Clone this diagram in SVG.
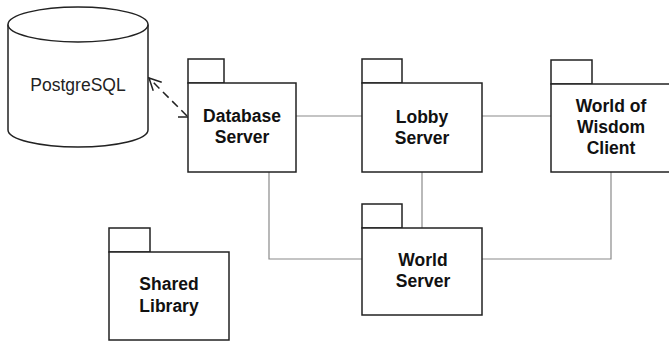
<svg xmlns="http://www.w3.org/2000/svg" width="669" height="342" viewBox="0 0 669 342">
<defs>
<style>
.box{fill:#fff;stroke:#222;stroke-width:1.5}
.conn{fill:none;stroke:#8a8a8a;stroke-width:1.2}
.dash{fill:none;stroke:#222;stroke-width:1.5;stroke-dasharray:8 5}
.lbl{font-family:"Liberation Sans",Arial,sans-serif;font-size:17.5px;font-weight:bold;fill:#111;text-anchor:middle}
.plain{font-family:"Liberation Sans",Arial,sans-serif;font-size:17.5px;fill:#222;text-anchor:middle}
</style>
<marker id="open" viewBox="0 0 14 14" refX="13" refY="7" markerWidth="14" markerHeight="14" markerUnits="userSpaceOnUse" orient="auto">
<path d="M1,1 L13,7 L1,13" fill="none" stroke="#222" stroke-width="1.5"/>
</marker>
</defs>
<rect width="669" height="342" fill="#fff"/>
<g id="connectors">
<path class="conn" d="M296,116 H362"/>
<path class="conn" d="M482,116 H551"/>
<path class="conn" d="M269,172 V259 H362"/>
<path class="conn" d="M422,172 V228"/>
<path class="conn" d="M611,172 V259 H482"/>
<path d="M178,117 H188" fill="none" stroke="#222" stroke-width="1.5"/>
<path class="dash" d="M187,116 L149,78" marker-end="url(#open)"/>
</g>
<g id="postgresql">
<path class="box" d="M8,24.5 V130 A70,17 0 0 0 148,130 V24.5"/>
<ellipse class="box" cx="78" cy="24.5" rx="70" ry="17.5"/>
<text class="plain" x="78" y="91">PostgreSQL</text>
</g>
<g id="database-server">
<rect class="box" x="188" y="59" width="36" height="24"/>
<rect class="box" x="188" y="83" width="108" height="89"/>
<text class="lbl" x="242" y="122">Database</text>
<text class="lbl" x="242" y="143">Server</text>
</g>
<g id="lobby-server">
<rect class="box" x="362" y="59" width="40" height="24"/>
<rect class="box" x="362" y="83" width="120" height="89"/>
<text class="lbl" x="422" y="123">Lobby</text>
<text class="lbl" x="422" y="144">Server</text>
</g>
<g id="wow-client">
<rect class="box" x="551" y="60" width="41" height="24"/>
<rect class="box" x="551" y="84" width="120" height="88"/>
<text class="lbl" x="611" y="112">World of</text>
<text class="lbl" x="611" y="133">Wisdom</text>
<text class="lbl" x="611" y="154">Client</text>
</g>
<g id="world-server">
<rect class="box" x="362" y="204" width="40" height="24"/>
<rect class="box" x="362" y="228" width="120" height="87"/>
<text class="lbl" x="423" y="266">World</text>
<text class="lbl" x="423" y="287">Server</text>
</g>
<g id="shared-library">
<rect class="box" x="109" y="228" width="41" height="24"/>
<rect class="box" x="109" y="252" width="120" height="88"/>
<text class="lbl" x="169" y="290">Shared</text>
<text class="lbl" x="169" y="312">Library</text>
</g>
</svg>
